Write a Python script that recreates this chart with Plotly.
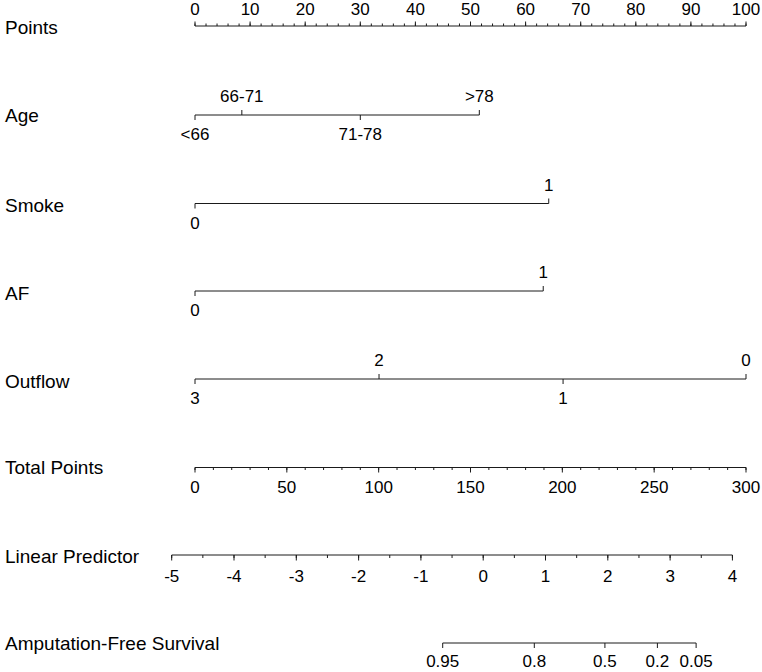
import numpy as np
import plotly.graph_objects as go

W, H = 762, 672

# ---------------- data ----------------
points_major = list(range(0, 101, 10))
points_minor = list(range(0, 101, 2))

age_labels = ["<66", "66-71", "71-78", ">78"]
age_points = [0.0, 8.5, 30.0, 51.6]

smoke_labels = ["0", "1"]
smoke_points = [0.0, 64.2]

af_labels = ["0", "1"]
af_points = [0.0, 63.2]

outflow_labels = ["3", "2", "1", "0"]
outflow_points = [0.0, 33.4, 66.8, 100.0]

total_major = list(range(0, 301, 50))
total_minor = list(range(0, 301, 10))

lp_major = [-5, -4, -3, -2, -1, 0, 1, 2, 3, 4]
lp_minor = [-5 + 0.5 * i for i in range(19)]

surv_ticks = [0.95, 0.8, 0.5, 0.2, 0.05]
surv_labels = ["0.95", "0.8", "0.5", "0.2", "0.05"]

# model scale constants
LP_AT_TOTAL0 = -4.626   # linear predictor at 0 total points
LP_SPAN = 8.844         # linear predictor change over 300 total points
SURV_SHIFT = 2.32       # lp = ln(-ln S) + shift


def total_to_pts(t):
    return np.asarray(t, float) * 100.0 / 300.0


def lp_to_pts(lp):
    return (np.asarray(lp, float) - LP_AT_TOTAL0) / LP_SPAN * 100.0


def surv_to_pts(s):
    s = np.asarray(s, float)
    return lp_to_pts(np.log(-np.log(s)) + SURV_SHIFT)


# ---------------- layout constants ----------------
X0_PX, X100_PX = 195.0, 746.0
PX_PER_PT = (X100_PX - X0_PX) / 100.0
XR = [-X0_PX / PX_PER_PT, (W - X0_PX) / PX_PER_PT]

FONT = "Arial, Liberation Sans, sans-serif"
TITLE_SIZE = 19
TICK_SIZE = 17
LINE_COL = "#1a1a1a"
TEXT_DY = 2.0  # scatter text sits slightly high; compensate

fig = go.Figure()
annotations = []
lab_x, lab_y, lab_t = [], [], []


def add_segments(xs_pairs, ys_pairs):
    X, Y = [], []
    for (xa, xb), (ya, yb) in zip(xs_pairs, ys_pairs):
        X += [xa, xb, None]
        Y += [ya, yb, None]
    fig.add_trace(go.Scatter(x=X, y=Y, mode="lines", hoverinfo="skip",
                             line=dict(color=LINE_COL, width=1), showlegend=False))


def label(x, y, text):
    lab_x.append(float(x))
    lab_y.append(float(y) + TEXT_DY)
    lab_t.append(text)


def title(y, text):
    annotations.append(dict(x=3 / W, y=y, xref="paper", yref="y", text=text, showarrow=False,
                            xanchor="left", yanchor="middle",
                            font=dict(family=FONT, size=TITLE_SIZE, color="black")))


def scale_axis(y, major_pos, minor_pos, major_labels, up, maj_len, min_len, lab_off):
    sgn = -1 if up else 1
    xs = [min(major_pos + minor_pos), max(major_pos + minor_pos)]
    segs_x = [(xs[0], xs[1])]
    segs_y = [(y, y)]
    for p in minor_pos:
        segs_x.append((p, p))
        segs_y.append((y, y + sgn * min_len))
    for p in major_pos:
        segs_x.append((p, p))
        segs_y.append((y, y + sgn * maj_len))
    add_segments(segs_x, segs_y)
    for p, t in zip(major_pos, major_labels):
        label(p, y + sgn * lab_off, t)


def variable_axis(y, pos, labels, tick_len=5, lab_off=19):
    segs_x = [(min(pos), max(pos))]
    segs_y = [(y, y)]
    order = np.argsort(pos)
    for k, i in enumerate(order):
        below = (k % 2 == 0)
        sgn = 1 if below else -1
        segs_x.append((pos[i], pos[i]))
        segs_y.append((y, y + sgn * tick_len))
        label(pos[i], y + sgn * lab_off, labels[i])
    add_segments(segs_x, segs_y)


# rows (pixel y)
Y_POINTS, Y_AGE, Y_SMOKE, Y_AF, Y_OUT = 26, 115, 203.5, 291, 379
Y_TOTAL, Y_LP, Y_SURV = 467.5, 555, 643

title(Y_POINTS + 1, "Points")
scale_axis(Y_POINTS, points_major, points_minor, [str(v) for v in points_major],
           up=True, maj_len=4.5, min_len=2.5, lab_off=17.5)

title(Y_AGE, "Age")
variable_axis(Y_AGE, age_points, age_labels)

title(Y_SMOKE + 2, "Smoke")
variable_axis(Y_SMOKE, smoke_points, smoke_labels)

title(Y_AF + 2, "AF")
variable_axis(Y_AF, af_points, af_labels)

title(Y_OUT + 2, "Outflow")
variable_axis(Y_OUT, outflow_points, outflow_labels)

title(Y_TOTAL, "Total Points")
scale_axis(Y_TOTAL, list(total_to_pts(total_major)), list(total_to_pts(total_minor)),
           [str(v) for v in total_major], up=False, maj_len=5, min_len=2.5, lab_off=19.5)

title(Y_LP + 1, "Linear Predictor")
scale_axis(Y_LP, list(lp_to_pts(lp_major)), list(lp_to_pts(lp_minor)),
           [str(v) for v in lp_major], up=False, maj_len=5.5, min_len=3, lab_off=21)

title(Y_SURV, "Amputation-Free Survival")
sp = list(surv_to_pts(surv_ticks))
scale_axis(Y_SURV, sp, [], surv_labels, up=False, maj_len=5, min_len=0, lab_off=18)

fig.add_trace(go.Scatter(x=lab_x, y=lab_y, text=lab_t, mode="text",
                         textposition="middle center", cliponaxis=False,
                         textfont=dict(family=FONT, size=TICK_SIZE, color="black"),
                         hoverinfo="skip", showlegend=False))

fig.update_layout(
    width=W, height=H,
    margin=dict(l=0, r=0, t=0, b=0),
    paper_bgcolor="white", plot_bgcolor="white",
    xaxis=dict(range=XR, visible=False, fixedrange=True),
    yaxis=dict(range=[H, 0], visible=False, fixedrange=True),
    annotations=annotations,
    showlegend=False,
)

fig.write_html("out.html")
